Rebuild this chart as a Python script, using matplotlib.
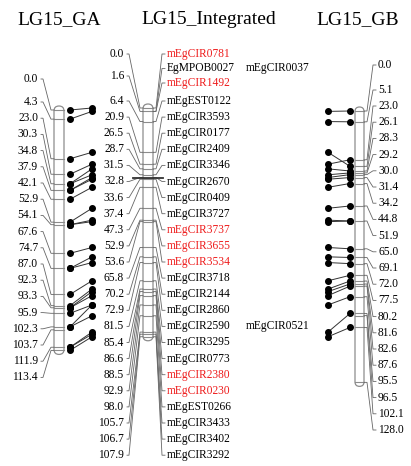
import matplotlib
matplotlib.use("Agg")
import matplotlib.pyplot as plt
from matplotlib.patches import FancyBboxPatch

# ---- data ----
ga_pos = [0.0, 4.3, 23.0, 30.3, 34.8, 37.9, 42.1, 52.9, 54.1, 67.6, 74.7, 87.0,
          92.3, 93.3, 95.9, 102.3, 103.7, 111.9, 113.4]
int_pos = [0.0, 1.6, 6.4, 20.9, 26.5, 28.7, 31.5, 32.8, 33.6, 37.4, 47.3, 52.9,
           53.6, 65.8, 70.2, 72.9, 81.5, 85.4, 86.6, 88.5, 92.9, 98.0, 105.7,
           106.7, 107.9]
int_markers = ["mEgCIR0781", "EgMPOB0027", "mEgCIR1492", "mEgEST0122", "mEgCIR3593",
               "mEgCIR0177", "mEgCIR2409", "mEgCIR3346", "mEgCIR2670", "mEgCIR0409",
               "mEgCIR3727", "mEgCIR3737", "mEgCIR3655", "mEgCIR3534", "mEgCIR3718",
               "mEgCIR2144", "mEgCIR2860", "mEgCIR2590", "mEgCIR3295", "mEgCIR0773",
               "mEgCIR2380", "mEgCIR0230", "mEgEST0266", "mEgCIR3433", "mEgCIR3402",
               "mEgCIR3292"]
int_marker_pos = [0.0, 1.6, 1.6, 6.4, 20.9, 26.5, 28.7, 31.5, 32.8, 33.6, 37.4, 47.3,
                  52.9, 53.6, 65.8, 70.2, 72.9, 81.5, 85.4, 86.6, 88.5, 92.9, 98.0,
                  105.7, 106.7, 107.9]
red_markers = ["mEgCIR0781", "mEgCIR1492", "mEgCIR3737", "mEgCIR3655", "mEgCIR3534",
               "mEgCIR2380", "mEgCIR0230"]
extra_markers = {"EgMPOB0027": "mEgCIR0037", "mEgCIR2590": "mEgCIR0521"}
gb_pos = [0.0, 5.1, 23.0, 26.1, 28.3, 29.2, 30.0, 31.4, 34.2, 44.8, 51.9, 65.0, 69.1,
          72.0, 77.5, 80.2, 81.6, 82.6, 87.6, 95.5, 96.5, 102.1, 128.0]

# shared loci (GA cM, integrated cM)
ga_links = [(0.0, 0.0), (4.3, 1.6), (23.0, 20.9), (30.3, 26.5), (34.8, 28.7),
            (34.8, 31.5), (37.9, 32.8), (37.9, 33.6), (42.1, 37.4), (52.9, 47.3),
            (54.1, 52.9), (54.1, 53.6), (67.6, 65.8), (74.7, 70.2), (74.7, 72.9),
            (87.0, 81.5), (92.3, 85.4), (93.3, 86.6), (93.3, 88.5), (95.9, 92.9),
            (102.3, 92.9), (102.3, 98.0), (111.9, 105.7), (111.9, 106.7), (113.4, 107.9)]
# shared loci (integrated cM, GB cM)
gb_links = [(1.6, 0.0), (6.4, 5.1), (20.9, 26.1), (26.5, 23.0), (28.7, 28.3),
            (31.5, 29.2), (32.8, 30.0), (33.6, 31.4), (37.4, 34.2), (47.3, 44.8),
            (52.9, 51.9), (53.6, 51.9), (65.8, 65.0), (70.2, 69.1), (72.9, 72.0),
            (81.5, 77.5), (85.4, 80.2), (86.6, 81.6), (88.5, 82.6), (92.9, 87.6),
            (105.7, 95.5), (107.9, 102.1)]

# ---- layout (pixel space) ----
SCALE = 2.12
GA_TOP, INT_TOP, GB_TOP = 110, 108, 111
FONT = "Liberation Serif"
FS = 8.3
GREY = "#8c8c8c"


def ymap(cm, top):
    return top + cm * SCALE


def label_rows(first, start, step, n):
    return first + [start + step * i for i in range(n - len(first))]


def draw_bar(ax, x0, x1, top, length, positions):
    w = x1 - x0
    ax.add_patch(FancyBboxPatch((x0, top - 4), w, length * SCALE + 8,
                                boxstyle="round,pad=0,rounding_size=%g" % (w / 2.0),
                                fc="white", ec=GREY, lw=0.9, zorder=2))
    for p in positions:
        y = ymap(p, top)
        ax.plot([x0, x1], [y, y], color=GREY, lw=0.8, zorder=3)


def connect_left(ax, xl, bx, ly, ty):
    ax.plot([xl + 3, xl + 5, bx - 3, bx], [ly, ly, ty, ty], color="#666666", lw=0.6, zorder=3)


def connect_right(ax, bx, xl, ly, ty):
    ax.plot([bx, bx + 3, xl - 5, xl - 2], [ty, ty, ly, ly], color="#666666", lw=0.6, zorder=3)


fig = plt.figure(figsize=(4.11, 4.66), dpi=100)
ax = fig.add_axes([0, 0, 1, 1])
ax.set_xlim(0, 411)
ax.set_ylim(466, 0)
ax.axis("off")

# titles
for x, t in [(59, "LG15_GA"), (209, "LG15_Integrated"), (358, "LG15_GB")]:
    ax.text(x, 20, t, ha="center", va="center", fontsize=14, family=FONT)

# ---- GA map ----
draw_bar(ax, 54, 64, GA_TOP, max(ga_pos), ga_pos)
ga_rows = label_rows([79], 102, 16.2, len(ga_pos))
for p, ly in zip(ga_pos, ga_rows):
    ax.text(38, ly, "%.1f" % p, ha="right", va="center", fontsize=FS, family=FONT)
    connect_left(ax, 38, 54, ly, ymap(p, GA_TOP))

# ---- integrated map ----
draw_bar(ax, 143, 153, INT_TOP, max(int_pos), int_pos)
ax.plot([133, 163], [ymap(32.8, INT_TOP)] * 2, color="#333333", lw=1.3, zorder=4)
int_rows = label_rows([54, 76], 101, 16.1, len(int_pos))
for p, ly in zip(int_pos, int_rows):
    ax.text(124, ly, "%.1f" % p, ha="right", va="center", fontsize=FS, family=FONT)
    connect_left(ax, 124, 143, ly, ymap(p, INT_TOP))
mk_rows = label_rows([54, 68.5, 83], 101, 16.1, len(int_markers))
for name, p, ly in zip(int_markers, int_marker_pos, mk_rows):
    col = "#ee1c1c" if name in red_markers else "black"
    ax.text(167, ly, name, ha="left", va="center", fontsize=FS, family=FONT, color=col)
    connect_right(ax, 153, 167, ly, ymap(p, INT_TOP))
    if name in extra_markers:
        ax.text(246, ly, extra_markers[name], ha="left", va="center", fontsize=FS, family=FONT)

# ---- GB map ----
draw_bar(ax, 355, 364, GB_TOP, max(gb_pos), gb_pos)
gb_rows = label_rows([65, 90], 106, 16.2, len(gb_pos))
for p, ly in zip(gb_pos, gb_rows):
    ax.text(378, ly, "%.1f" % p, ha="left", va="center", fontsize=FS, family=FONT)
    connect_right(ax, 364, 378, ly, ymap(p, GB_TOP))

# ---- shared marker links ----
for a, b in ga_links:
    ya, yb = ymap(a, GA_TOP), ymap(b, INT_TOP)
    ax.plot([70, 92], [ya, yb], color="#333333", lw=0.7, zorder=4)
    ax.plot([70, 92], [ya, yb], "o", color="black", ms=4.0, zorder=5)
for a, b in gb_links:
    ya, yb = ymap(a, INT_TOP), ymap(b, GB_TOP)
    ax.plot([328, 350], [ya, yb], color="#333333", lw=0.7, zorder=4)
    ax.plot([328, 350], [ya, yb], "o", color="black", ms=4.0, zorder=5)

fig.savefig("out.png", dpi=100)
